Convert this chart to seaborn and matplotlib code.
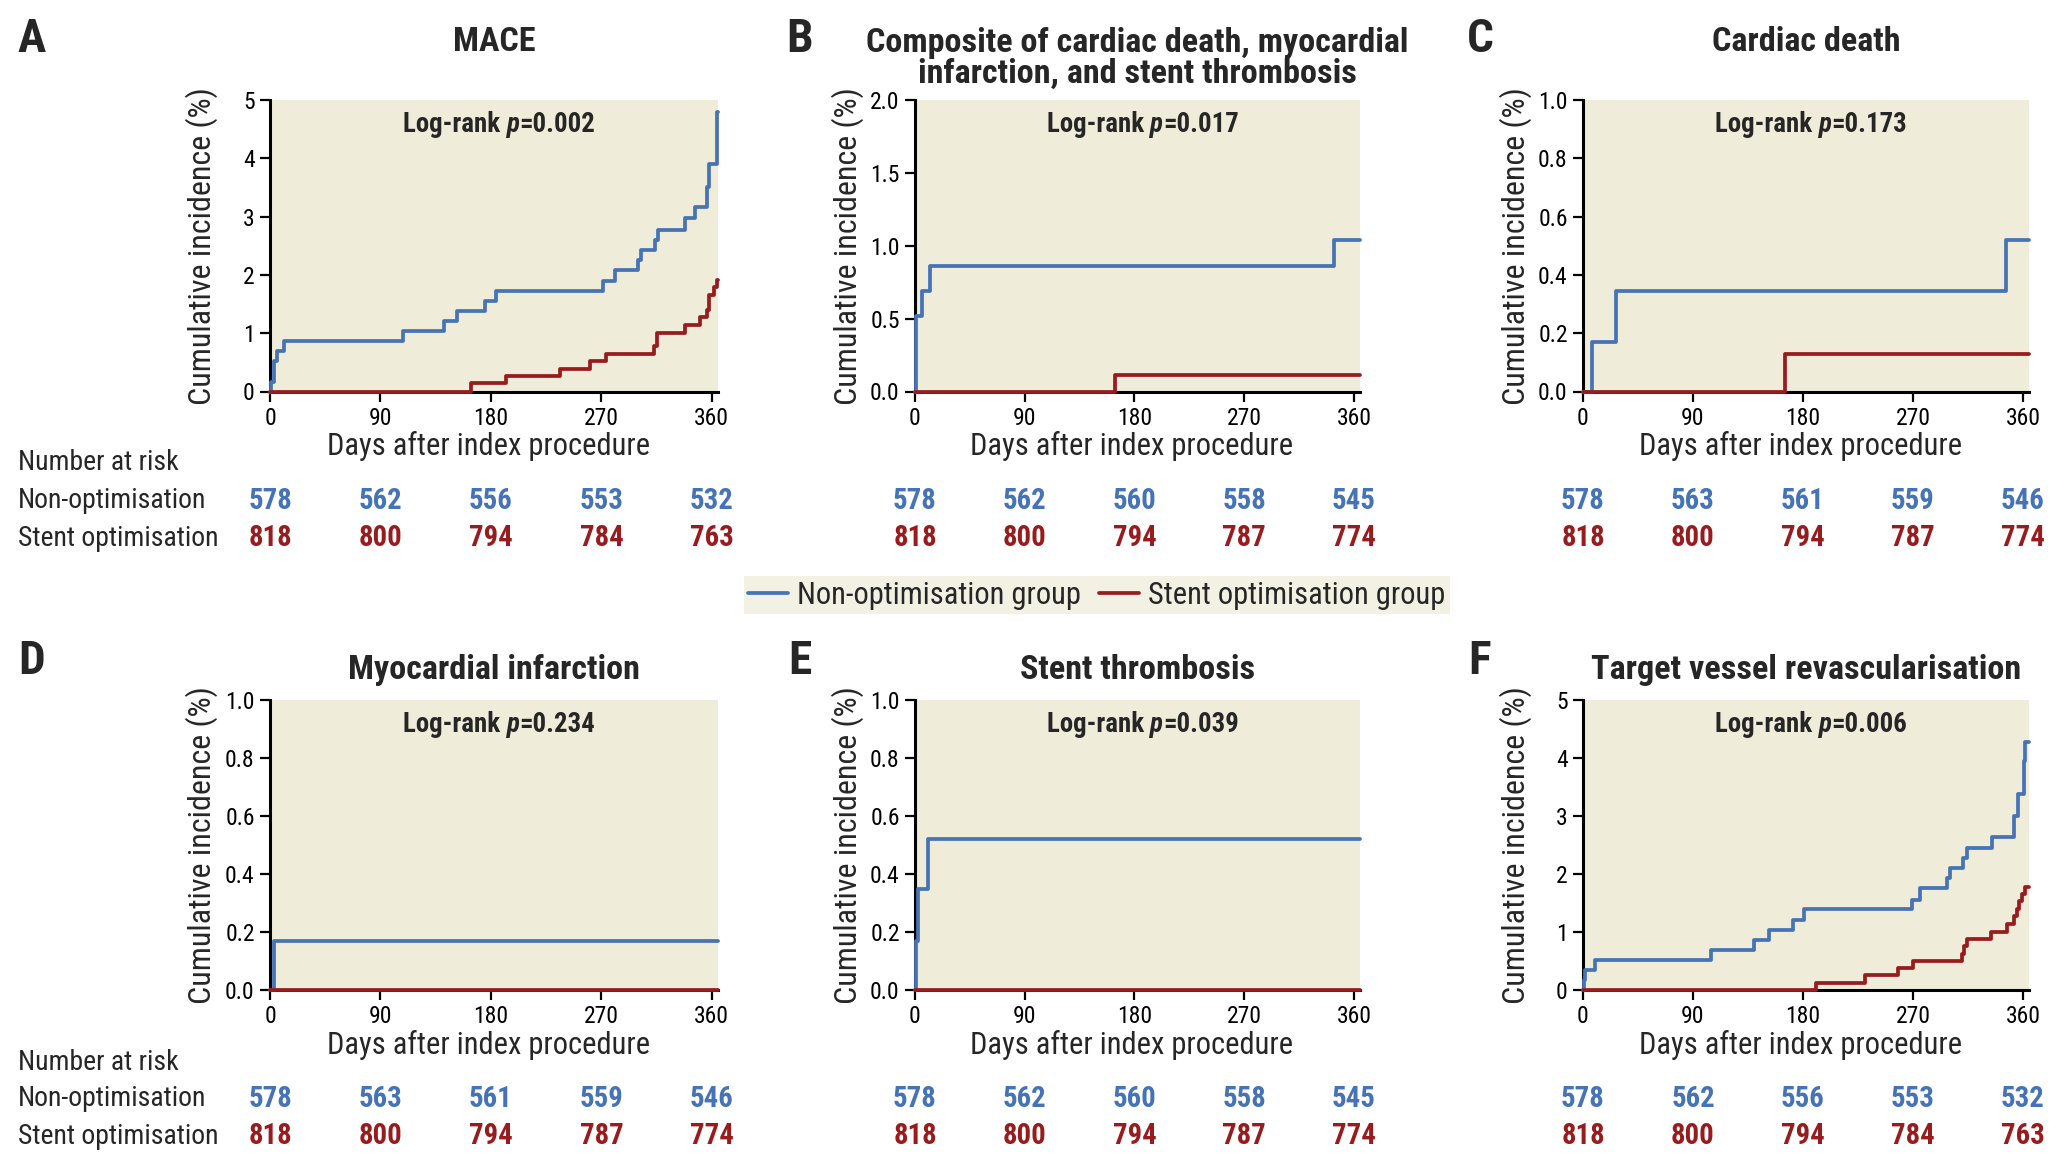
import matplotlib
matplotlib.use('Agg')
import matplotlib.pyplot as plt
import seaborn as sns
import pandas as pd
from matplotlib import font_manager
from matplotlib.lines import Line2D

sns.set_style('ticks')

# pick a condensed family if one is installed, else Liberation Sans
ttf = font_manager.fontManager.ttflist
names = {f.name for f in ttf}
FONT, STRETCH, S = 'Liberation Sans', 'normal', 0.84
for cand in ['Liberation Sans Narrow', 'Roboto Condensed', 'Open Sans Condensed', 'Noto Sans Condensed']:
    if cand in names:
        FONT, STRETCH, S = cand, 'normal', 1.0
        break
else:
    extra = sorted(n for n in names if 'Narrow' in n or 'Condensed' in n)
    if extra:
        FONT, S = extra[0], 1.0
    elif any(f.name == 'DejaVu Sans' and 'condensed' in str(f.stretch) for f in ttf):
        FONT, STRETCH, S = 'DejaVu Sans', 'condensed', 0.9
    elif 'Liberation Sans' not in names:
        FONT, S = 'DejaVu Sans', 0.76

plt.rcParams['font.family'] = [FONT, 'DejaVu Sans']
plt.rcParams['font.stretch'] = STRETCH

BLUE = '#4673b6'
RED = '#981c1e'
BG = '#f0ecda'

groups = ['Non-optimisation group', 'Stent optimisation group']
risk_days = [0, 90, 180, 270, 360]

# ---- data (day, cumulative incidence %) ----
A_non_t = [0, 0.5, 3.5, 6, 11, 108, 142, 152, 175, 184, 271, 281, 300, 302, 314, 316, 338, 346, 356, 358, 364]
A_non_y = [0, 0.17, 0.52, 0.69, 0.86, 1.04, 1.21, 1.38, 1.56, 1.73, 1.90, 2.08, 2.25, 2.42, 2.60, 2.77, 2.98, 3.16, 3.50, 3.90, 4.80]
A_opt_t = [0, 164, 192, 236, 261, 274, 313, 315, 338, 350, 356, 358, 362, 364]
A_opt_y = [0, 0.14, 0.26, 0.38, 0.52, 0.64, 0.78, 1.00, 1.14, 1.28, 1.40, 1.66, 1.80, 1.92]

B_non_t = [0, 0.5, 6, 12, 344]
B_non_y = [0, 0.52, 0.69, 0.86, 1.04]
B_opt_t = [0, 164]
B_opt_y = [0, 0.11]

C_non_t = [0, 7.5, 27, 346]
C_non_y = [0, 0.17, 0.345, 0.52]
C_opt_t = [0, 165]
C_opt_y = [0, 0.13]

D_non_t = [0, 3]
D_non_y = [0, 0.17]
D_opt_t = [0]
D_opt_y = [0]

E_non_t = [0, 0.5, 2.5, 11]
E_non_y = [0, 0.17, 0.35, 0.52]
E_opt_t = [0]
E_opt_y = [0]

F_non_t = [0, 0.5, 1.5, 10, 105, 140, 152, 172, 181, 269, 276, 298, 300, 311, 314, 335, 353, 356, 361, 362]
F_non_y = [0, 0.17, 0.35, 0.52, 0.69, 0.86, 1.04, 1.21, 1.40, 1.56, 1.76, 1.93, 2.10, 2.28, 2.45, 2.63, 3.00, 3.38, 3.95, 4.28]
F_opt_t = [0, 191, 231, 258, 270, 310, 312, 314, 334, 347, 353, 355, 357, 359.5, 361.5]
F_opt_y = [0, 0.12, 0.26, 0.38, 0.50, 0.62, 0.76, 0.88, 1.00, 1.13, 1.27, 1.40, 1.53, 1.65, 1.78]

# numbers at risk
A_risk_non = [578, 562, 556, 553, 532]
A_risk_opt = [818, 800, 794, 784, 763]
B_risk_non = [578, 562, 560, 558, 545]
B_risk_opt = [818, 800, 794, 787, 774]
C_risk_non = [578, 563, 561, 559, 546]
C_risk_opt = [818, 800, 794, 787, 774]
D_risk_non = [578, 563, 561, 559, 546]
D_risk_opt = [818, 800, 794, 787, 774]
E_risk_non = [578, 562, 560, 558, 545]
E_risk_opt = [818, 800, 794, 787, 774]
F_risk_non = [578, 562, 556, 553, 532]
F_risk_opt = [818, 800, 794, 784, 763]

pvals = ['0.002', '0.017', '0.173', '0.234', '0.039', '0.006']
titles = ['MACE', 'Composite of cardiac death, myocardial\ninfarction, and stent thrombosis',
          'Cardiac death', 'Myocardial infarction', 'Stent thrombosis',
          'Target vessel revascularisation']
letters = ['A', 'B', 'C', 'D', 'E', 'F']
ymax = [5, 2.0, 1.0, 1.0, 1.0, 5]
ystep = [1, 0.5, 0.2, 0.2, 0.2, 1]
yfmt = ['{:.0f}', '{:.1f}', '{:.1f}', '{:.1f}', '{:.1f}', '{:.0f}']

curves = [(A_non_t, A_non_y, A_opt_t, A_opt_y), (B_non_t, B_non_y, B_opt_t, B_opt_y),
          (C_non_t, C_non_y, C_opt_t, C_opt_y), (D_non_t, D_non_y, D_opt_t, D_opt_y),
          (E_non_t, E_non_y, E_opt_t, E_opt_y), (F_non_t, F_non_y, F_opt_t, F_opt_y)]
risks = [(A_risk_non, A_risk_opt), (B_risk_non, B_risk_opt), (C_risk_non, C_risk_opt),
         (D_risk_non, D_risk_opt), (E_risk_non, E_risk_opt), (F_risk_non, F_risk_opt)]

W, H = 2067, 1169
fig = plt.figure(figsize=(W / 100, H / 100), dpi=100)

lefts = [270, 915, 1583]
widths = [448, 445, 446]
row_top = [100, 700]
row_h = [291.5, 290]
XMAX = 365

for i in range(6):
    r, c = divmod(i, 3)
    ax = fig.add_axes([lefts[c] / W, 1 - (row_top[r] + row_h[r]) / H, widths[c] / W, row_h[r] / H])
    ax.set_facecolor(BG)
    nt, ny, ot, oy = curves[i]
    df = pd.concat([
        pd.DataFrame({'day': list(nt) + [XMAX], 'inc': list(ny) + [ny[-1]], 'group': groups[0]}),
        pd.DataFrame({'day': list(ot) + [XMAX], 'inc': list(oy) + [oy[-1]], 'group': groups[1]}),
    ])
    sns.lineplot(data=df, x='day', y='inc', hue='group', palette=[BLUE, RED],
                 hue_order=groups, estimator=None, sort=False,
                 drawstyle='steps-post', linewidth=2.7, legend=False, ax=ax,
                 clip_on=False, zorder=5)
    ax.set_xlim(0, XMAX)
    ax.set_ylim(0, ymax[i])
    ax.set_xticks(risk_days)
    yt = [k * ystep[i] for k in range(int(round(ymax[i] / ystep[i])) + 1)]
    ax.set_yticks(yt)
    ax.set_yticklabels([yfmt[i].format(v) for v in yt])
    sns.despine(ax=ax)
    for s in ['left', 'bottom']:
        ax.spines[s].set_linewidth(2.2)
        ax.spines[s].set_color('black')
    ax.tick_params(direction='out', length=7, width=1.6, labelsize=17 * S, pad=4, colors='black')
    ax.set_xlabel('Days after index procedure', fontsize=22 * S)
    ax.set_ylabel('Cumulative incidence (%)', fontsize=23 * S)
    ax.xaxis.set_label_coords(0.487, -0.137)
    ax.yaxis.set_label_coords(-0.115, 0.5)

    # Log-rank p=..., with italic p
    pt = ax.text(0.543, 0.915, 'p', transform=ax.transAxes, ha='center', va='center',
                 fontsize=19.4 * S, fontweight='bold', fontstyle='italic')
    ax.annotate('Log-rank ', xy=(0, 0), xycoords=pt, ha='right', va='bottom',
                fontsize=19.4 * S, fontweight='bold')
    ax.annotate('=' + pvals[i], xy=(1, 0), xycoords=pt, ha='left', va='bottom',
                fontsize=19.4 * S, fontweight='bold')

    ty = 1.2 if r == 0 else 1.103
    if '\n' in titles[i]:
        ty = 1.143
    ax.text(0.5, ty, titles[i], transform=ax.transAxes, ha='center', va='center',
            fontsize=24.6 * S, fontweight='bold', linespacing=0.95)
    lx = [32, 800, 1480][c]
    ly = [39, 661][r]
    fig.text(lx / W, 1 - ly / H, letters[i], ha='center', va='center', fontsize=34 * S, fontweight='bold')

    rn, ro = risks[i]
    yn = [501, 1099][r]
    yo = [538, 1136][r]
    for d, a, b in zip(risk_days, rn, ro):
        ax.annotate(str(a), xy=(d, 1 - yn / H), xycoords=('data', 'figure fraction'),
                    ha='center', va='center', color=BLUE, fontsize=20.7 * S, fontweight='bold',
                    annotation_clip=False)
        ax.annotate(str(b), xy=(d, 1 - yo / H), xycoords=('data', 'figure fraction'),
                    ha='center', va='center', color=RED, fontsize=20.7 * S, fontweight='bold',
                    annotation_clip=False)

for r in range(2):
    for txt, yy in zip(['Number at risk', 'Non-optimisation', 'Stent optimisation'],
                       [[463, 501, 538], [1062, 1099, 1136]][r]):
        fig.text(18 / W, 1 - yy / H, txt, ha='left', va='center', fontsize=20 * S)

handles = [Line2D([], [], color=BLUE, lw=2.7), Line2D([], [], color=RED, lw=2.7)]
leg = fig.legend(handles, groups, loc='center', bbox_to_anchor=(832 * 1.3183 / W, 1 - 595 / H),
                 ncol=2, fontsize=22 * S, frameon=True, fancybox=False, framealpha=1,
                 handlelength=1.3, handletextpad=0.3, columnspacing=0.6, borderpad=0.15,
                 borderaxespad=0)
leg.get_frame().set_facecolor('#f3f1e4')
leg.get_frame().set_edgecolor('none')

fig.savefig('out.png', dpi=100)
